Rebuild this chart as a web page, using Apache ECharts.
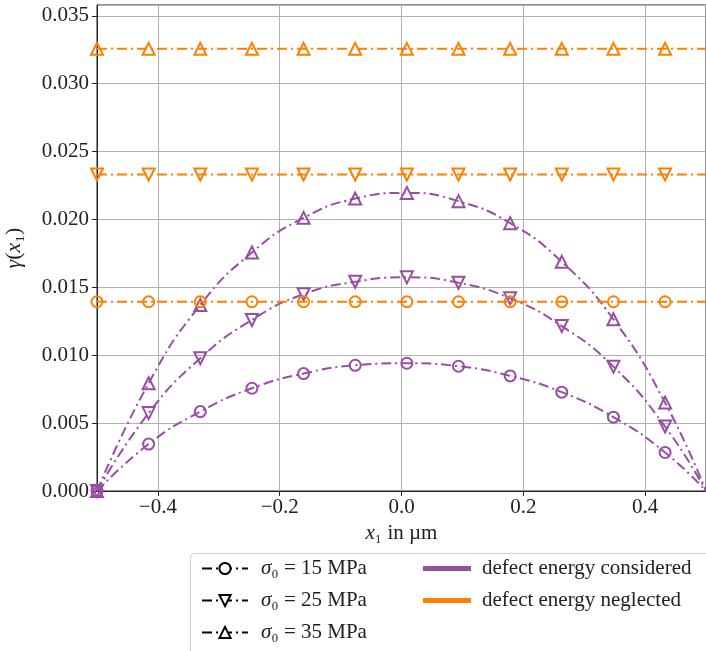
<!DOCTYPE html>
<html>
<head>
<meta charset="utf-8">
<script src="https://cdn.jsdelivr.net/npm/echarts@6/dist/echarts.min.js"></script>
<style>
	html, body { margin: 0; padding: 0; background: #fff; }
	#chart { width: 706px; height: 651px; }
</style>
</head>
<body>
<div id="chart"></div>
<script>
// marker positions along x1, last entry is the right end of the curves
var xPos = [-0.5, -0.4152, -0.3304, -0.2456, -0.1608, -0.076, 0.0088, 0.0936, 0.1784, 0.2632, 0.348, 0.4328];
var xEnd = 0.5;

// defect energy considered
var gam15 = [0, 0.00346, 0.00585, 0.00757, 0.00865, 0.00926, 0.00941, 0.00919, 0.00848, 0.00728, 0.00544, 0.00284];
var gam25 = [0, 0.00574, 0.00978, 0.0126, 0.0145, 0.01541, 0.01574, 0.01534, 0.01419, 0.01215, 0.00916, 0.00475];
var gam35 = [0, 0.00794, 0.0137, 0.01757, 0.02012, 0.02154, 0.02196, 0.02135, 0.01973, 0.01688, 0.01265, 0.00651];

// defect energy neglected (constant levels)
var flat15 = 0.01394;
var flat25 = 0.02331;
var flat35 = 0.03257;

var yTicks = [0, 0.005, 0.01, 0.015, 0.02, 0.025, 0.03, 0.035];

var PURPLE = '#984ea3';
var ORANGE = '#ff7f00';
var FONT = 'Liberation Serif';
var DASHDOT = [10, 4, 2, 4];

(function () {
	var chart = echarts.init(document.getElementById('chart'));

	function curve(vals) {
		var d = xPos.map(function (x, i) { return [x, vals[i]]; });
		d.push({ value: [xEnd, 0], symbol: 'none' });
		return d;
	}
	function flat(v) {
		var d = xPos.map(function (x) { return [x, v]; });
		d.push({ value: [xEnd, v], symbol: 'none' });
		return d;
	}
	function dataSeries(data, color, symbol, size, rot, smooth, z) {
		return {
			type: 'line',
			data: data,
			smooth: smooth,
			symbol: symbol,
			symbolSize: size,
			symbolRotate: rot,
			showAllSymbol: true,
			clip: true,
			z: z,
			lineStyle: { color: color, width: 2, type: DASHDOT },
			itemStyle: { color: 'rgba(0,0,0,0)', borderColor: color, borderWidth: 2 },
			emphasis: { disabled: true },
			silent: true
		};
	}
	function legendSeries(name, symbol, size, rot) {
		return {
			name: name,
			type: 'line',
			data: [],
			symbol: symbol,
			symbolSize: size,
			symbolRotate: rot,
			lineStyle: { color: '#000', width: 2.5, type: DASHDOT },
			itemStyle: { color: '#fff', borderColor: '#000', borderWidth: 2.5 }
		};
	}
	function plainSeries(name, color) {
		return {
			name: name,
			type: 'line',
			data: [],
			symbol: 'none',
			lineStyle: { color: color, width: 4 },
			itemStyle: { color: color }
		};
	}

	var sigmaNames = {
		's15': '{i|σ}₀ = 15 MPa',
		's25': '{i|σ}₀ = 25 MPa',
		's35': '{i|σ}₀ = 35 MPa'
	};

	var option = {
		animation: false,
		backgroundColor: '#fff',
		grid: {
			left: 97, right: 0, top: 5, bottom: 160,
			outerBoundsMode: 'none',
			containLabel: false,
			show: true, borderColor: '#222', borderWidth: 1, backgroundColor: 'transparent'
		},
		xAxis: {
			type: 'value',
			min: -0.5,
			max: 0.5,
			name: '{i|x}₁ in µm',
			nameLocation: 'middle',
			nameGap: 28,
			nameTextStyle: {
				fontFamily: FONT, fontSize: 21, color: '#222',
				rich: { i: { fontFamily: FONT, fontSize: 21, fontStyle: 'italic', color: '#222' } }
			},
			axisLine: { onZero: false, lineStyle: { color: '#222', width: 1 } },
			axisTick: { show: true, inside: false, length: 5, lineStyle: { color: '#222' } },
			axisLabel: {
				showMinLabel: false, showMaxLabel: false,
				fontFamily: FONT, fontSize: 21, color: '#222', margin: 6,
				formatter: function (v) {
					return (v < 0 ? '−' : '') + Math.abs(v).toFixed(1);
				}
			},
			splitLine: { show: true, lineStyle: { color: '#b0b0b0', width: 1 } }
		},
		yAxis: {
			type: 'value',
			min: yTicks[0],
			max: 0.0358,
			interval: 0.005,
			name: '{i|γ}({i|x}₁)',
			nameLocation: 'middle',
			nameGap: 72,
			nameTextStyle: {
				fontFamily: FONT, fontSize: 22, color: '#222',
				rich: { i: { fontFamily: FONT, fontSize: 22, fontStyle: 'italic', color: '#222' } }
			},
			axisLine: { show: true, onZero: false, lineStyle: { color: '#222', width: 1 } },
			axisTick: { show: true, inside: false, length: 5, lineStyle: { color: '#222' } },
			axisLabel: {
				showMaxLabel: false,
				fontFamily: FONT, fontSize: 21, color: '#222', margin: 8,
				formatter: function (v) { return v.toFixed(3); }
			},
			splitLine: { show: true, lineStyle: { color: '#b0b0b0', width: 1 } }
		},
		graphic: [{
			type: 'rect',
			left: 190, top: 553, z: 0,
			shape: { width: 540, height: 120, r: 4 },
			style: { fill: '#fff', stroke: '#d0d0d0', lineWidth: 1 }
		}],
		legend: [{
			orient: 'vertical',
			left: 196, top: 553,
			itemWidth: 46, itemHeight: 14, itemGap: 11,
			selectedMode: false,
			data: ['s15', 's25', 's35'],
			formatter: function (n) { return sigmaNames[n]; },
			textStyle: {
				fontFamily: FONT, fontSize: 21, color: '#222', padding: [0, 0, 0, 8],
				rich: { i: { fontFamily: FONT, fontSize: 21, fontStyle: 'italic', color: '#222' } }
			}
		}, {
			orient: 'vertical',
			left: 418, top: 553,
			itemWidth: 48, itemHeight: 5, itemGap: 11,
			selectedMode: false,
			icon: 'rect',
			data: ['defect energy considered', 'defect energy neglected'],
			textStyle: { fontFamily: FONT, fontSize: 21, color: '#222', padding: [0, 0, 0, 6] }
		}],
		series: [
			dataSeries(curve(gam15), PURPLE, 'circle', 11, 0, true, 2),
			dataSeries(curve(gam25), PURPLE, 'triangle', 12, 180, true, 2),
			dataSeries(curve(gam35), PURPLE, 'triangle', 12, 0, true, 2),
			dataSeries(flat(flat15), ORANGE, 'circle', 11, 0, false, 3),
			dataSeries(flat(flat25), ORANGE, 'triangle', 12, 180, false, 3),
			dataSeries(flat(flat35), ORANGE, 'triangle', 12, 0, false, 3),
			legendSeries('s15', 'circle', 9, 0),
			legendSeries('s25', 'triangle', 10, 180),
			legendSeries('s35', 'triangle', 10, 0),
			plainSeries('defect energy considered', PURPLE),
			plainSeries('defect energy neglected', ORANGE)
		]
	};

	chart.setOption(option);

	window.onresize = function () {
		chart.resize();
	};
})();
</script>
</body>
</html>
